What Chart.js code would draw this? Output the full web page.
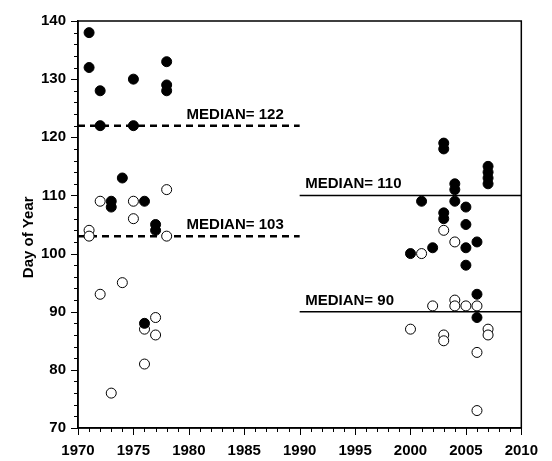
<!DOCTYPE html>
<html>
<head>
<meta charset="utf-8">
<script src="https://cdn.jsdelivr.net/npm/chart.js@4.4.0/dist/chart.umd.min.js"></script>
<style>
  html, body { margin: 0; padding: 0; background: #fff; }
</style>
</head>
<body>
<canvas id="chart" width="552" height="461"></canvas>
<script>
// filled circles
const filledYears = [1971, 1971, 1972, 1972, 1975, 1975, 1978, 1978, 1978, 1974, 1973, 1973, 1976, 1976, 1977, 1977,
  2003, 2003, 2003, 2003, 2007, 2007, 2007, 2007, 2004, 2004, 2004, 2001, 2005, 2005, 2005, 2005, 2006, 2006, 2006, 2002, 2000];
const filledDays = [138, 132, 128, 122, 130, 122, 133, 129, 128, 113, 109, 108, 109, 88, 105, 104,
  119, 118, 107, 106, 115, 114, 113, 112, 112, 111, 109, 109, 108, 105, 101, 98, 102, 93, 89, 101, 100];

// open circles
const openYears = [1971, 1971, 1972, 1972, 1975, 1975, 1978, 1978, 1974, 1976, 1976, 1977, 1977, 1973,
  2003, 2003, 2003, 2004, 2004, 2004, 2001, 2002, 2005, 2006, 2006, 2006, 2000, 2007, 2007];
const openDays = [104, 103, 109, 93, 109, 106, 111, 103, 95, 87, 81, 89, 86, 76,
  104, 86, 85, 102, 92, 91, 100, 91, 91, 91, 83, 73, 87, 87, 86];

// medians for the two periods
const earlyPeriod = [1970, 1990];
const latePeriod = [1990, 2010];
const earlyMedians = [122, 103];
const lateMedians = [110, 90];

const xTicks = { min: 1970, max: 2010, step: 5 };
const yTicks = { min: 70, max: 140, step: 10 };
const yTitle = "Day of Year";

const FONT = "'Liberation Sans', Arial, Helvetica, sans-serif";

function toPoints(xs, ys) {
  return xs.map((x, i) => ({ x, y: ys[i] }));
}

function medianLine(period, value, dashed) {
  return {
    type: "line",
    data: [{ x: period[0], y: value }, { x: period[1], y: value }],
    borderColor: "#000",
    borderWidth: dashed ? 2.5 : 1.5,
    borderDash: dashed ? [7, 5] : [],
    pointRadius: 0,
    showLine: true,
    fill: false,
  };
}

// box frame, minor/major tick marks, y title and the median labels
const frameAndTicks = {
  id: "frameAndTicks",
  afterDraw(chart) {
    const { ctx, chartArea: a, scales: { x, y } } = chart;
    ctx.save();
    ctx.strokeStyle = "#000";
    ctx.lineWidth = 1.5;
    ctx.strokeRect(a.left, a.top, a.right - a.left, a.bottom - a.top);

    ctx.lineWidth = 1;
    ctx.beginPath();
    for (let v = x.min; v <= x.max; v += 1) {
      const px = Math.round(x.getPixelForValue(v)) + 0.5;
      const len = v % 5 === 0 ? 7 : 4;
      ctx.moveTo(px, a.bottom);
      ctx.lineTo(px, a.bottom + len);
    }
    for (let v = y.min; v <= y.max; v += 2) {
      const py = Math.round(y.getPixelForValue(v)) + 0.5;
      const len = v % 10 === 0 ? 7 : 4;
      ctx.moveTo(a.left, py);
      ctx.lineTo(a.left - len, py);
    }
    ctx.stroke();

    ctx.fillStyle = "#000";

    // y title (sits a bit below the axis middle in the original)
    ctx.save();
    ctx.font = "bold 15px " + FONT;
    ctx.translate(29, y.getPixelForValue(102.8));
    ctx.rotate(-Math.PI / 2);
    ctx.textAlign = "center";
    ctx.textBaseline = "middle";
    ctx.fillText(yTitle, 0, 0);
    ctx.restore();

    ctx.font = "bold 15px " + FONT;
    ctx.textAlign = "left";
    ctx.textBaseline = "alphabetic";
    earlyMedians.forEach((m) => {
      ctx.fillText("MEDIAN= " + m, x.getPixelForValue(1979.8), y.getPixelForValue(m) - 7);
    });
    lateMedians.forEach((m) => {
      ctx.fillText("MEDIAN= " + m, x.getPixelForValue(1990.5), y.getPixelForValue(m) - 7);
    });
    ctx.restore();
  },
};

new Chart(document.getElementById("chart"), {
  type: "scatter",
  data: {
    datasets: [
      {
        data: toPoints(filledYears, filledDays),
        pointRadius: 5,
        pointBackgroundColor: "#000",
        pointBorderColor: "#000",
        pointBorderWidth: 1,
      },
      {
        data: toPoints(openYears, openDays),
        pointRadius: 5,
        pointBackgroundColor: "#fff",
        pointBorderColor: "#000",
        pointBorderWidth: 1,
      },
      ...earlyMedians.map((m) => medianLine(earlyPeriod, m, true)),
      ...lateMedians.map((m) => medianLine(latePeriod, m, false)),
    ],
  },
  options: {
    responsive: false,
    animation: false,
    layout: { padding: { top: 13, right: 28, left: 0, bottom: 0 } },
    plugins: { legend: { display: false }, tooltip: { enabled: false } },
    scales: {
      x: {
        type: "linear",
        min: xTicks.min,
        max: xTicks.max,
        ticks: {
          stepSize: xTicks.step,
          color: "#000",
          font: { family: FONT, size: 15, weight: "bold" },
          padding: 14,
          maxRotation: 0,
          callback: (v) => String(v),
        },
        grid: { display: false, drawTicks: false },
        border: { display: true, color: "#000", width: 1.5 },
        afterFit: (s) => { s.height = 33; },
      },
      y: {
        min: yTicks.min,
        max: yTicks.max,
        ticks: {
          stepSize: yTicks.step,
          color: "#000",
          font: { family: FONT, size: 15, weight: "bold" },
          padding: 12,
        },
        grid: { display: false, drawTicks: false },
        border: { display: true, color: "#000", width: 1.5 },
        afterFit: (s) => { s.width = 78; },
      },
    },
  },
  plugins: [frameAndTicks],
});
</script>
</body>
</html>
